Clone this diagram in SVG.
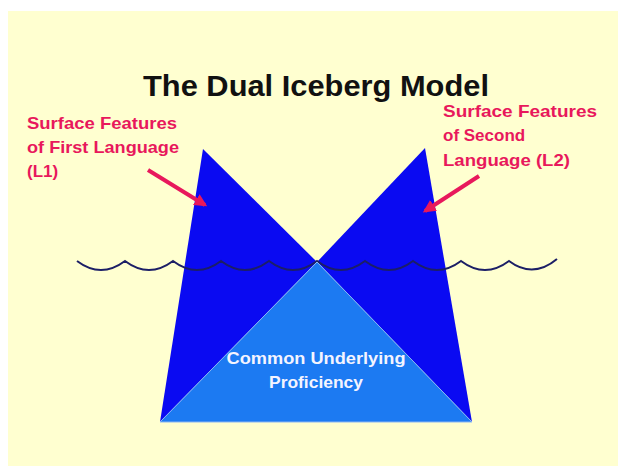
<svg xmlns="http://www.w3.org/2000/svg" width="618" height="466" viewBox="0 0 618 466">
<defs>
<style>
.lbl{font-family:"Liberation Sans",Arial,sans-serif;font-weight:bold;font-size:17px;fill:#e8185c}
.ctr{font-family:"Liberation Sans",Arial,sans-serif;font-weight:bold;font-size:17px;fill:#f4f4ff}
.arr{stroke:#e8185c;stroke-width:4;fill:none}
</style>
<marker id="ah" viewBox="0 0 10 10" refX="8" refY="5" markerWidth="3.2" markerHeight="3.2" orient="auto" markerUnits="strokeWidth">
<path d="M0,0 L10,5 L0,10 z" fill="#e8185c"/>
</marker>
</defs>
<rect x="0" y="0" width="618" height="466" fill="#ffffff"/>
<rect x="8" y="11" width="610" height="455" fill="#ffffd0"/>
<text x="316" y="96" text-anchor="middle" font-family="Liberation Sans,Arial,sans-serif" font-weight="bold" font-size="30" fill="#111111" textLength="346" lengthAdjust="spacingAndGlyphs">The Dual Iceberg Model</text>
<g id="iceberg-l1">
<polygon points="203,149 317,262 160,422" fill="#0a0af2"/>
</g>
<g id="iceberg-l2">
<polygon points="425,148 317,262 472,422" fill="#0a0af2"/>
</g>
<g id="water">
<path d="M77,261 Q101,279 125,261 Q149,279 173,261 Q197,279 221,261 Q245,279 269,261 Q293,279 317,261 Q341,279 365,261 Q389,279 413,261 Q437,279 461,261 Q485,279 509,261 Q533,279 557,259" fill="none" stroke="#1c1f66" stroke-width="2"/>
</g>
<g id="cup">
<polygon points="317,262 160,422 472,422" fill="#1c7af2" stroke="#8ab6f4" stroke-width="1"/>
<text class="ctr" x="316" y="364" text-anchor="middle" textLength="179" lengthAdjust="spacingAndGlyphs">Common Underlying</text>
<text class="ctr" x="316" y="388" text-anchor="middle" textLength="94" lengthAdjust="spacingAndGlyphs">Proficiency</text>
</g>
<g id="label-l1">
<text class="lbl" x="27" y="129" textLength="150" lengthAdjust="spacingAndGlyphs">Surface Features</text>
<text class="lbl" x="27" y="153" textLength="152" lengthAdjust="spacingAndGlyphs">of First Language</text>
<text class="lbl" x="27" y="177">(L1)</text>
</g>
<g id="label-l2">
<text class="lbl" x="443" y="117" textLength="154" lengthAdjust="spacingAndGlyphs">Surface Features</text>
<text class="lbl" x="443" y="141">of Second</text>
<text class="lbl" x="443" y="166" textLength="127" lengthAdjust="spacingAndGlyphs">Language (L2)</text>
</g>
<g id="connectors">
<line class="arr" x1="148" y1="170" x2="205" y2="205" marker-end="url(#ah)"/>
<line class="arr" x1="479" y1="176" x2="425" y2="211" marker-end="url(#ah)"/>
</g>
</svg>
